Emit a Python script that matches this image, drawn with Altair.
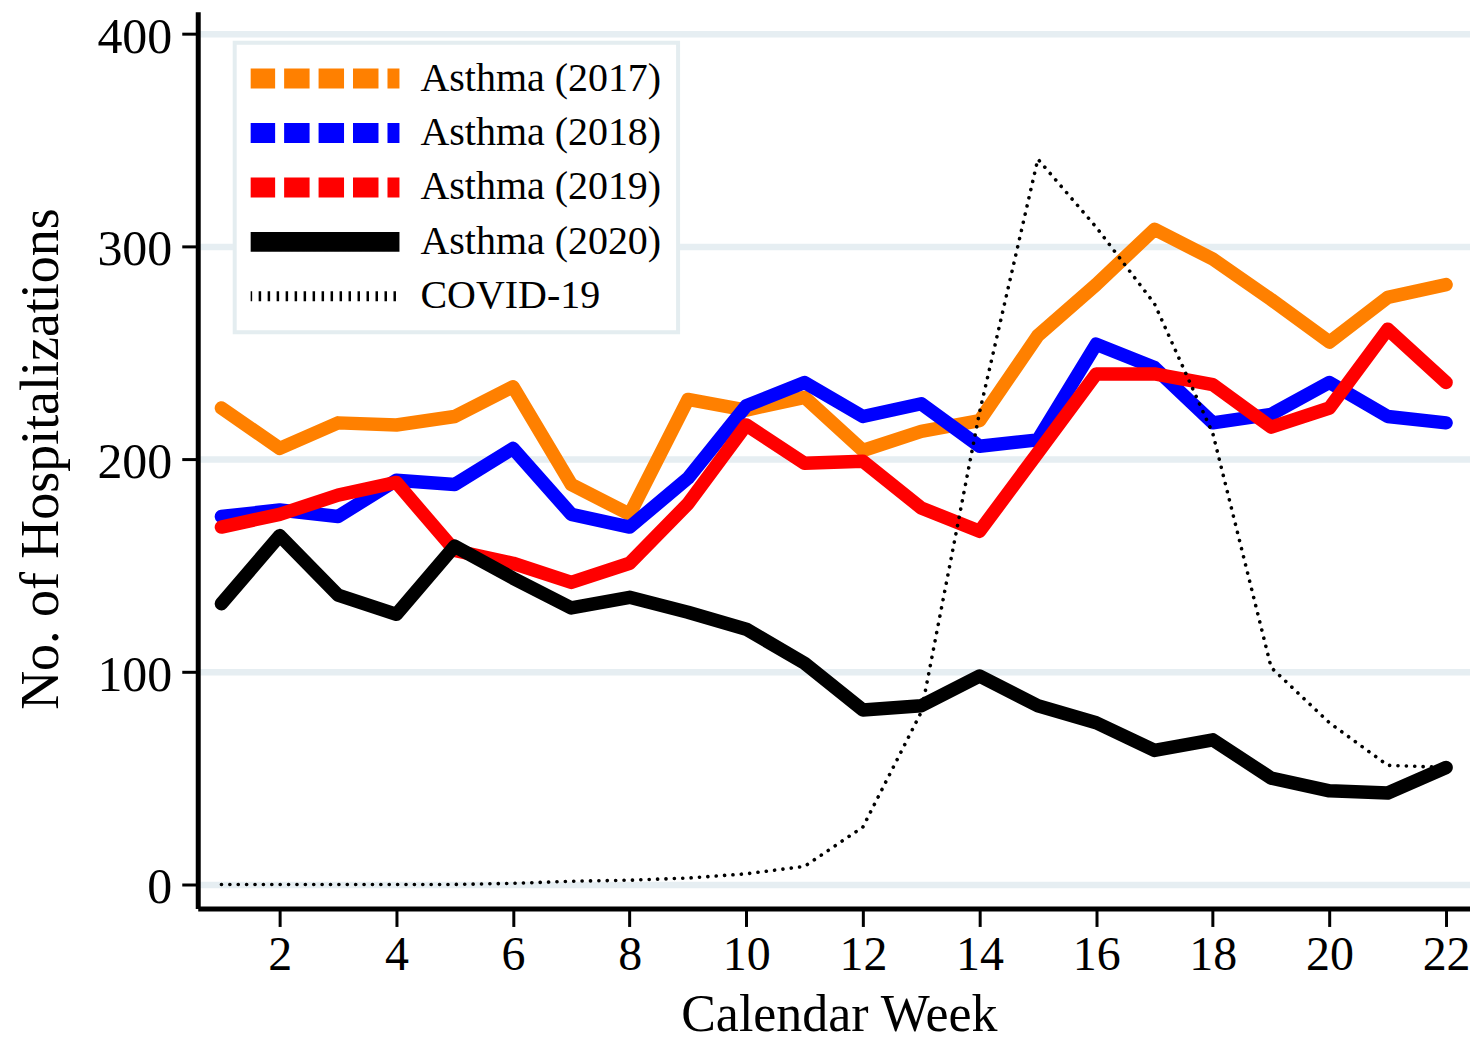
import altair as alt
import pandas as pd

weeks = list(range(1, 23))
series_names = ["Asthma (2017)", "Asthma (2018)", "Asthma (2019)", "Asthma (2020)", "COVID-19"]
series_colors = ["#ff8000", "#0000ff", "#ff0000", "#000000", "#000000"]

asthma_2017 = [224, 205, 217, 216, 220, 234, 188, 174, 228, 223, 229, 204, 213, 218, 258, 282, 308, 294, 275, 255, 276, 282]
asthma_2018 = [173, 176, 173, 190, 188, 205, 174, 168, 191, 225, 236, 220, 226, 206, 209, 254, 243, 217, 221, 236, 220, 217]
asthma_2019 = [168, 174, 183, 189, 157, 151, 142, 151, 179, 216, 198, 199, 177, 166, 203, 240, 240, 235, 215, 224, 261, 236]
asthma_2020 = [132, 164, 136, 127, 159, 144, 130, 135, 128, 120, 104, 82, 84, 98, 84, 76, 63, 68, 50, 44, 43, 55]
covid_19 = [0, 0, 0, 0, 0, 0.5, 1.5, 2, 3, 5, 8.5, 27, 81, 222, 341, 309, 273, 212, 102, 76, 56, 55]

y_ticks = [0, 100, 200, 300, 400]
x_ticks = [2, 4, 6, 8, 10, 12, 14, 16, 18, 20, 22]

rows = []
for name, vals in zip(series_names, [asthma_2017, asthma_2018, asthma_2019, asthma_2020, covid_19]):
    for w, v in zip(weeks, vals):
        rows.append({"week": w, "value": v, "series": name})
df = pd.DataFrame(rows)

serif = "Liberation Serif"

legend = alt.Legend(
    title=None,
    orient="none",
    legendX=37,
    legendY=31,
    symbolType="M-2.1,0H12.9",
    symbolSize=400,
    symbolStrokeWidth={"expr": "datum.value == 'COVID-19' ? 10 : 20"},
    symbolDash={"expr": "datum.value == 'COVID-19' ? [2.5, 6.5] : (datum.value == 'Asthma (2020)' ? [1, 0] : [25.5, 9])"},
    labelFont=serif,
    labelFontSize=40,
    labelColor="#000000",
    labelLimit=0,
    labelOffset=130,
    clipHeight=40,
    rowPadding=14.5,
    padding=16,
    strokeColor="#e4edf0",
    fillColor="#ffffff",
)

x_enc = alt.X(
    "week:Q",
    scale=alt.Scale(domain=[0.594, 22.41], nice=False, zero=False),
    axis=alt.Axis(
        values=x_ticks,
        grid=False,
        title="Calendar Week",
        labelFontSize=48,
        labelPadding=5,
        tickSize=18,
        titleFontSize=52,
        titleX=642,
        titleY=122,
        titleAlign="center",
        titleBaseline="alphabetic",
    ),
)
y_enc = alt.Y(
    "value:Q",
    scale=alt.Scale(domain=[-11.3, 410.3], nice=False, zero=False),
    axis=alt.Axis(
        values=y_ticks,
        grid=True,
        title="No. of Hospitalizations",
        labelFontSize=50,
        labelPadding=10,
        labelOffset=3.5,
        tickSize=16,
        titleFontSize=54,
        titleAngle=270,
        titleX=-140,
        titleY=447.5,
        titleAlign="center",
        titleBaseline="alphabetic",
    ),
)
color_enc = alt.Color(
    "series:N",
    scale=alt.Scale(domain=series_names, range=series_colors),
    legend=legend,
)

base = alt.Chart(df).encode(x=x_enc, y=y_enc, color=color_enc)

asthma_lines = base.transform_filter(alt.datum.series != "COVID-19").mark_line(
    strokeWidth=13.5, strokeCap="round", strokeJoin="round"
)
covid_line = base.transform_filter(alt.datum.series == "COVID-19").mark_line(
    strokeWidth=3.6, strokeCap="round", strokeJoin="round", strokeDash=[0.1, 8.3]
)

chart = (
    alt.layer(asthma_lines, covid_line)
    .properties(
        width=1274,
        height=898,
        autosize=alt.AutoSizeParams(type="none"),
        padding={"left": 190, "top": 3, "right": 0, "bottom": 133},
    )
    .configure_view(stroke=None)
    .configure_legend(strokeWidth=4)
    .configure_axis(
        labelFont=serif,
        titleFont=serif,
        labelColor="#000000",
        titleColor="#000000",
        titleFontWeight="normal",
        domainColor="#000000",
        domainWidth=5,
        tickColor="#000000",
        tickWidth=3,
        gridColor="#e6eef2",
        gridWidth=6.5,
    )
)

chart.save("out.html", embed_options={"renderer": "svg", "actions": False})
